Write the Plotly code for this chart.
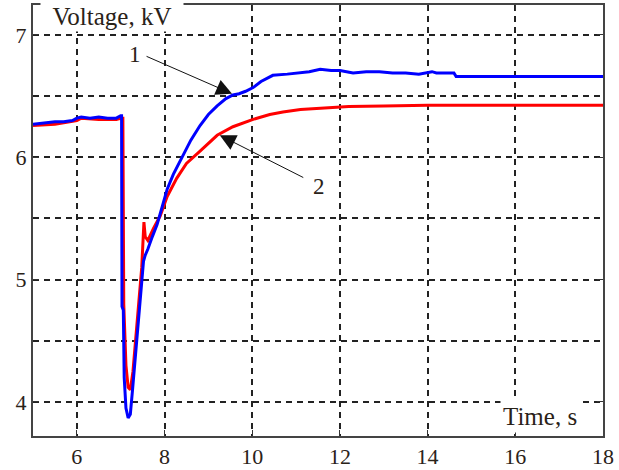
import plotly.graph_objects as go

# Curve 1 (blue)
t_blue = [5.0, 5.3, 5.5, 5.7, 5.9, 6.0, 6.1, 6.3, 6.5, 6.7, 6.9, 7.0, 7.02, 7.03, 7.06, 7.08, 7.12,
          7.17, 7.22, 7.27, 7.33, 7.40, 7.46, 7.52, 7.56, 7.62, 7.72, 7.83, 7.95, 8.06, 8.2, 8.42,
          8.6, 8.81, 9.0, 9.2, 9.4, 9.56, 9.7, 9.85, 10.02, 10.2, 10.47, 10.8, 11.09, 11.3, 11.55,
          11.8, 12.0, 12.3, 12.6, 12.9, 13.2, 13.5, 13.8, 14.0, 14.1, 14.2, 14.6, 14.65, 15.0,
          16.0, 17.0, 18.0]
v_blue = [6.27, 6.28, 6.29, 6.29, 6.30, 6.32, 6.33, 6.32, 6.33, 6.32, 6.32, 6.34, 6.34, 4.78, 4.75,
          4.20, 3.95, 3.87, 3.90, 4.10, 4.35, 4.60, 4.90, 5.15, 5.20, 5.25, 5.35, 5.45, 5.60, 5.74,
          5.86, 6.01, 6.14, 6.26, 6.35, 6.42, 6.48, 6.51, 6.52, 6.54, 6.57, 6.62, 6.67, 6.68, 6.69,
          6.70, 6.72, 6.71, 6.71, 6.69, 6.70, 6.70, 6.69, 6.69, 6.68, 6.69, 6.70, 6.69, 6.69, 6.66,
          6.66, 6.66, 6.66, 6.66]

# Curve 2 (red)
t_red = [5.0, 5.5, 6.0, 6.1, 6.5, 6.9, 7.02, 7.05, 7.07, 7.12, 7.17, 7.22, 7.28, 7.35, 7.42, 7.48,
         7.53, 7.56, 7.62, 7.75, 7.9, 8.06, 8.28, 8.5, 8.81, 9.2, 9.56, 10.02, 10.4, 10.7, 11.1,
         11.5, 12.2, 13.0, 14.0, 18.0]
v_red = [6.26, 6.27, 6.30, 6.32, 6.31, 6.31, 6.32, 6.32, 4.80, 4.30, 4.12, 4.10, 4.25, 4.55, 4.80,
         5.10, 5.47, 5.35, 5.32, 5.42, 5.52, 5.68, 5.83, 5.95, 6.05, 6.18, 6.25, 6.31, 6.35, 6.37,
         6.39, 6.40, 6.415, 6.42, 6.425, 6.425]

x_ticks = [6, 8, 10, 12, 14, 16, 18]
y_ticks = [4, 5, 6, 7]

FONT = "Liberation Serif"
TXT = "#2a2218"
GRID = "#222222"
DASH = "6px,5px"

fig = go.Figure()
fig.add_trace(go.Scatter(x=t_red, y=v_red, mode="lines", line=dict(color="#ff0000", width=3),
                         showlegend=False, hoverinfo="skip"))
fig.add_trace(go.Scatter(x=t_blue, y=v_blue, mode="lines", line=dict(color="#0000ff", width=3),
                         showlegend=False, hoverinfo="skip"))

fig.update_xaxes(range=[5, 18], tickvals=x_ticks, showgrid=True, gridcolor=GRID, gridwidth=1.5,
                 griddash=DASH, zeroline=False, showline=True, linecolor="#444444",
                 linewidth=2, mirror="ticks", ticks="inside", ticklen=6, tickcolor="#333",
                 automargin=False, ticklabelstandoff=0,
                 tickfont=dict(family=FONT, size=22, color=TXT))
fig.update_yaxes(range=[3.722, 7.245], tickvals=y_ticks, showgrid=True, gridcolor=GRID,
                 gridwidth=1.5, griddash=DASH, zeroline=False, showline=True,
                 linecolor="#444444", linewidth=2, mirror="ticks", ticks="inside", ticklen=6,
                 tickcolor="#333", automargin=False, ticklabelstandoff=0,
                 tickfont=dict(family=FONT, size=22, color=TXT),
                 minor=dict(tickvals=[4.5, 5.5, 6.5], showgrid=True, gridcolor=GRID,
                            gridwidth=1.5, griddash=DASH))

ann = [
    dict(x=5.16, y=7.15, xref="x", yref="y", text="Voltage, kV", showarrow=False,
         xanchor="left", yanchor="middle", bgcolor="white", borderpad=1, width=140,
         align="center", font=dict(family=FONT, size=25, color=TXT)),
    dict(x=16.56, y=3.88, xref="x", yref="y", text="Time, s", showarrow=False,
         bgcolor="white", borderpad=2, font=dict(family=FONT, size=25, color=TXT)),
    dict(x=7.32, y=6.84, xref="x", yref="y", text="1", showarrow=False,
         font=dict(family=FONT, size=23, color=TXT)),
    dict(x=11.52, y=5.76, xref="x", yref="y", text="2", showarrow=False,
         font=dict(family=FONT, size=23, color=TXT)),
    dict(x=9.54, y=6.52, xref="x", yref="y", text="", showarrow=True, ax=-87, ay=-38,
         arrowhead=2, arrowsize=3.2, arrowwidth=1, arrowcolor="#111", standoff=0),
    dict(x=9.26, y=6.18, xref="x", yref="y", text="", showarrow=True, ax=85, ay=43,
         arrowhead=2, arrowsize=3.2, arrowwidth=1, arrowcolor="#111", standoff=0),
]

fig.update_layout(width=619, height=470, margin=dict(l=33, r=16, t=5, b=34),
                  plot_bgcolor="white", paper_bgcolor="white", annotations=ann,
                  font=dict(family=FONT), hovermode=False)

fig.write_html("out.html", config={"displayModeBar": False},
               post_script="document.body.style.margin='0';document.body.style.overflow='hidden';")
